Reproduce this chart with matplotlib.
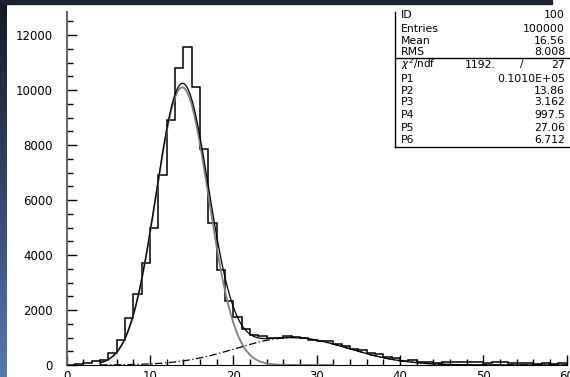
import numpy as np
import matplotlib.pyplot as plt
from matplotlib.lines import Line2D
from matplotlib.patches import Rectangle
from matplotlib.colors import LinearSegmentedColormap

# histogram contents, bins of width 1 from 0 to 60
bin_edges = list(range(0, 61))
counts = [0, 30, 60, 150, 200, 450, 900, 1700, 2570, 3700,
          5000, 6900, 8900, 10800, 11550, 10100, 7850, 5170, 3450, 2330,
          1750, 1300, 1100, 1050, 1000, 970, 1050, 1030, 1000, 910,
          880, 870, 760, 680, 600, 545, 420, 390, 300, 245,
          145, 180, 100, 100, 90, 120, 120, 120, 120, 110,
          60, 100, 100, 60, 60, 60, 50, 60, 50, 60]

# fit parameters from the stats box (two gaussians)
p1, p2, p3 = 10100.0, 13.86, 3.162
p4, p5, p6 = 997.5, 27.06, 6.712

stat_labels = ["ID", "Entries", "Mean", "RMS"]
stat_values = ["100", "100000", "16.56", "8.008"]
par_labels = ["P1", "P2", "P3", "P4", "P5", "P6"]
par_values = ["0.1010E+05", "13.86", "3.162", "997.5", "27.06", "6.712"]

W, H = 570, 377
fig = plt.figure(figsize=(W / 100, H / 100), dpi=100)
fig.patch.set_facecolor("white")


def fx(px):
    return px / W


def fy(py):
    return 1 - py / H


# slide background pieces: gradient strip on the left, dark strip on top
bg = fig.add_axes([0, 0, 7 / W, 1])
cmap = LinearSegmentedColormap.from_list("slide", ["#151a26", "#33456a", "#5679b0"])
bg.imshow(np.linspace(0, 1, 100).reshape(-1, 1), aspect="auto", cmap=cmap)
bg.axis("off")
fig.add_artist(Rectangle((0, fy(4)), fx(552), 4 / H, transform=fig.transFigure,
                         color="#1a2233", zorder=5))

ax = fig.add_axes([fx(66.7), fy(365), fx(566.7) - fx(66.7), fy(12) - fy(365)])
ax.stairs(counts, bin_edges, color="black", lw=1.1)

x = np.linspace(4, 60, 600)
g1 = p1 * np.exp(-0.5 * ((x - p2) / p3) ** 2)
g2 = p4 * np.exp(-0.5 * ((x - p5) / p6) ** 2)
ax.plot(x[x < 32], g1[x < 32], color="#808080", lw=1.3)
ax.plot(x, g1 + g2, color="black", lw=0.9)
ax.plot(x, g2, color="black", lw=0.9, linestyle=(0, (6, 2, 1, 2)))

ax.set_xlim(0, 60)
ax.set_ylim(0, 12840)
ax.set_xticks(range(0, 61, 10))
ax.set_xticks(range(0, 61, 2), minor=True)
ax.set_yticks(range(0, 12001, 2000))
ax.set_yticks(range(0, 12501, 500), minor=True)
ax.tick_params(which="both", direction="in", labelsize=8.5, width=1)
ax.tick_params(which="major", length=7)
ax.tick_params(which="minor", length=4.3)
ax.tick_params(axis="y", pad=10)
ax.tick_params(axis="x", pad=3.5)
for side in ["top", "right"]:
    ax.spines[side].set_visible(False)
ax.spines["left"].set_color("#666666")
ax.spines["left"].set_linewidth(1.5)

# stats box
for (x0, y0, x1, y1) in [(395, 12, 395, 147), (395, 147, 570, 147), (395, 58, 570, 58)]:
    fig.add_artist(Line2D([fx(x0), fx(x1)], [fy(y0), fy(y1)], color="black", lw=1))

rows_top = [14.5, 28.5, 41.5, 52.0]
for lab, val, py in zip(stat_labels, stat_values, rows_top):
    fig.text(fx(401), fy(py), lab, ha="left", va="center", fontsize=7.8)
    fig.text(fx(565), fy(py), val, ha="right", va="center", fontsize=7.8)

fig.text(fx(401), fy(64.5), r"$\chi^2$/ndf", ha="left", va="center", fontsize=7.5)
fig.text(fx(496), fy(64.5), "1192.", ha="right", va="center", fontsize=7.8)
fig.text(fx(522), fy(64.5), "/", ha="center", va="center", fontsize=7.8)
fig.text(fx(565), fy(64.5), "27", ha="right", va="center", fontsize=7.8)

rows_par = [78.5, 90.5, 102.3, 114.5, 127.5, 140]
for lab, val, py in zip(par_labels, par_values, rows_par):
    fig.text(fx(401), fy(py), lab, ha="left", va="center", fontsize=7.8)
    fig.text(fx(565), fy(py), val, ha="right", va="center", fontsize=7.8)

fig.savefig("out.png", dpi=100)
